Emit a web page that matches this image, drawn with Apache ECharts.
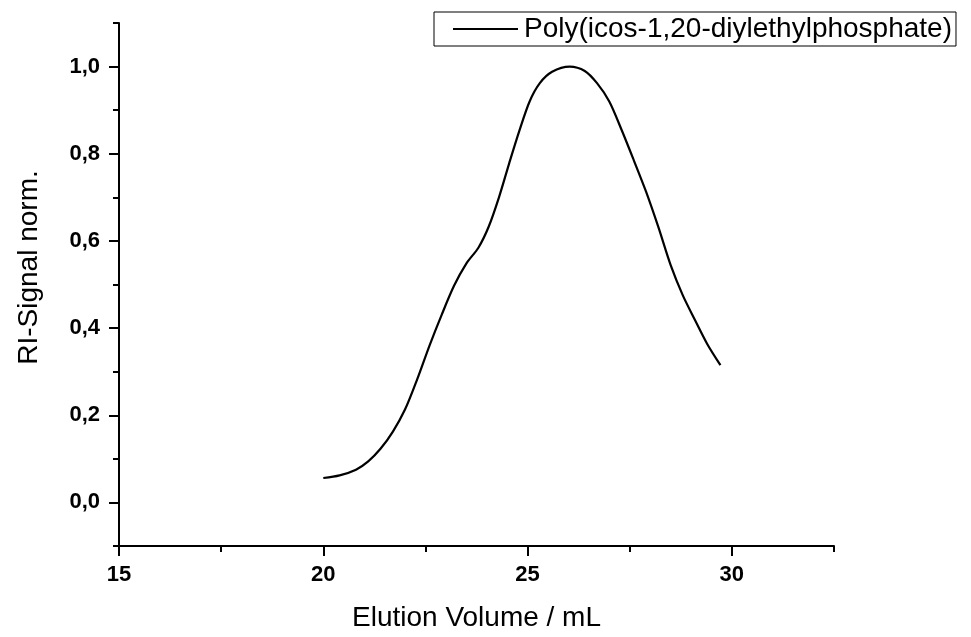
<!DOCTYPE html>
<html>
<head>
<meta charset="utf-8">
<script src="https://cdn.jsdelivr.net/npm/echarts@6/dist/echarts.min.js"></script>
<style>
html,body{margin:0;padding:0;background:#fff;}
#chart{width:971px;height:637px;}
</style>
</head>
<body>
<div id="chart"></div>
<script>
const seriesName = 'Poly(icos-1,20-diylethylphosphate)';
const elutionVolume = [20.0, 20.4, 20.8, 21.1, 21.4, 21.7, 22.0, 22.3, 22.6, 22.9, 23.2, 23.5, 23.8, 24.05, 24.3, 24.55, 24.8, 25.05, 25.3, 25.6, 26.03, 26.4, 26.7, 27.0, 27.3, 27.6, 27.9, 28.2, 28.5, 28.8, 29.1, 29.4, 29.72];
const riSignal     = [0.056, 0.062, 0.075, 0.094, 0.123, 0.162, 0.213, 0.283, 0.360, 0.431, 0.497, 0.548, 0.585, 0.633, 0.700, 0.778, 0.853, 0.920, 0.962, 0.988, 1.0, 0.990, 0.962, 0.920, 0.855, 0.785, 0.713, 0.632, 0.545, 0.475, 0.418, 0.363, 0.315];
const xMajorTicks = [15, 20, 25, 30];
const xMinorTicks = [17.5, 22.5, 27.5, 32.5];
const yMajorTicks = [0, 0.2, 0.4, 0.6, 0.8, 1.0];
const yMinorTicks = [-0.1, 0.1, 0.3, 0.5, 0.7, 0.9, 1.1];
const xRange = [15, 32.5];
const yRange = [-0.1, 1.1];

const FONT = "'Liberation Sans', Arial, sans-serif";
const chart = echarts.init(document.getElementById('chart'), null, { width: 971, height: 637 });
const fmtY = v => v.toFixed(1).replace('.', ',');
const axisLine = { show: true, onZero: false, lineStyle: { color: '#000', width: 2 } };

chart.setOption({
  backgroundColor: '#fff',
  animation: false,
  grid: { left: 119, top: 23, width: 715, height: 528, containLabel: false },
  legend: {
    left: 434, top: 12,
    padding: [3, 4, 3, 19],
    borderColor: '#000', borderWidth: 1,
    itemWidth: 65, itemHeight: 2, itemGap: 0,
    icon: 'rect',
    textStyle: { fontFamily: FONT, fontSize: 28, color: '#000', padding: [0, 0, 0, 1] },
    data: [seriesName]
  },
  xAxis: [
    {
      type: 'value', min: xRange[0], max: xRange[1],
      name: 'Elution Volume / mL', nameLocation: 'middle', nameGap: 58,
      nameTextStyle: { fontFamily: FONT, fontSize: 28, color: '#000' },
      axisLine: axisLine,
      axisTick: { show: true, length: 10, lineStyle: { color: '#000', width: 2 }, customValues: xMajorTicks },
      axisLabel: { fontFamily: FONT, fontSize: 22, fontWeight: 'bold', color: '#000', margin: 18, customValues: xMajorTicks },
      splitLine: { show: false }
    },
    {
      type: 'value', min: xRange[0], max: xRange[1], position: 'bottom',
      axisLine: { show: false, onZero: false },
      axisTick: { show: true, length: 6, lineStyle: { color: '#000', width: 2 }, customValues: xMinorTicks },
      axisLabel: { show: false },
      splitLine: { show: false }
    }
  ],
  yAxis: [
    {
      type: 'value', min: yRange[0], max: yRange[1],
      name: 'RI-Signal norm.', nameLocation: 'middle', nameGap: 76,
      nameTextStyle: { fontFamily: FONT, fontSize: 28, color: '#000', padding: [0, 0, 0, 34] },
      axisLine: axisLine,
      axisTick: { show: true, length: 10, lineStyle: { color: '#000', width: 2 }, customValues: yMajorTicks },
      axisLabel: { fontFamily: FONT, fontSize: 22, fontWeight: 'bold', color: '#000', margin: 19, customValues: yMajorTicks, formatter: fmtY },
      splitLine: { show: false }
    },
    {
      type: 'value', min: yRange[0], max: yRange[1], position: 'left',
      axisLine: { show: false, onZero: false },
      axisTick: { show: true, length: 6, lineStyle: { color: '#000', width: 2 }, customValues: yMinorTicks },
      axisLabel: { show: false },
      splitLine: { show: false }
    }
  ],
  series: [{
    name: seriesName,
    type: 'line',
    xAxisIndex: 0, yAxisIndex: 0,
    data: elutionVolume.map((v, i) => [v, riSignal[i]]),
    smooth: 0.3,
    showSymbol: false, symbol: 'none',
    itemStyle: { color: '#000' },
    lineStyle: { color: '#000', width: 2.2 }
  }]
});
</script>
</body>
</html>
